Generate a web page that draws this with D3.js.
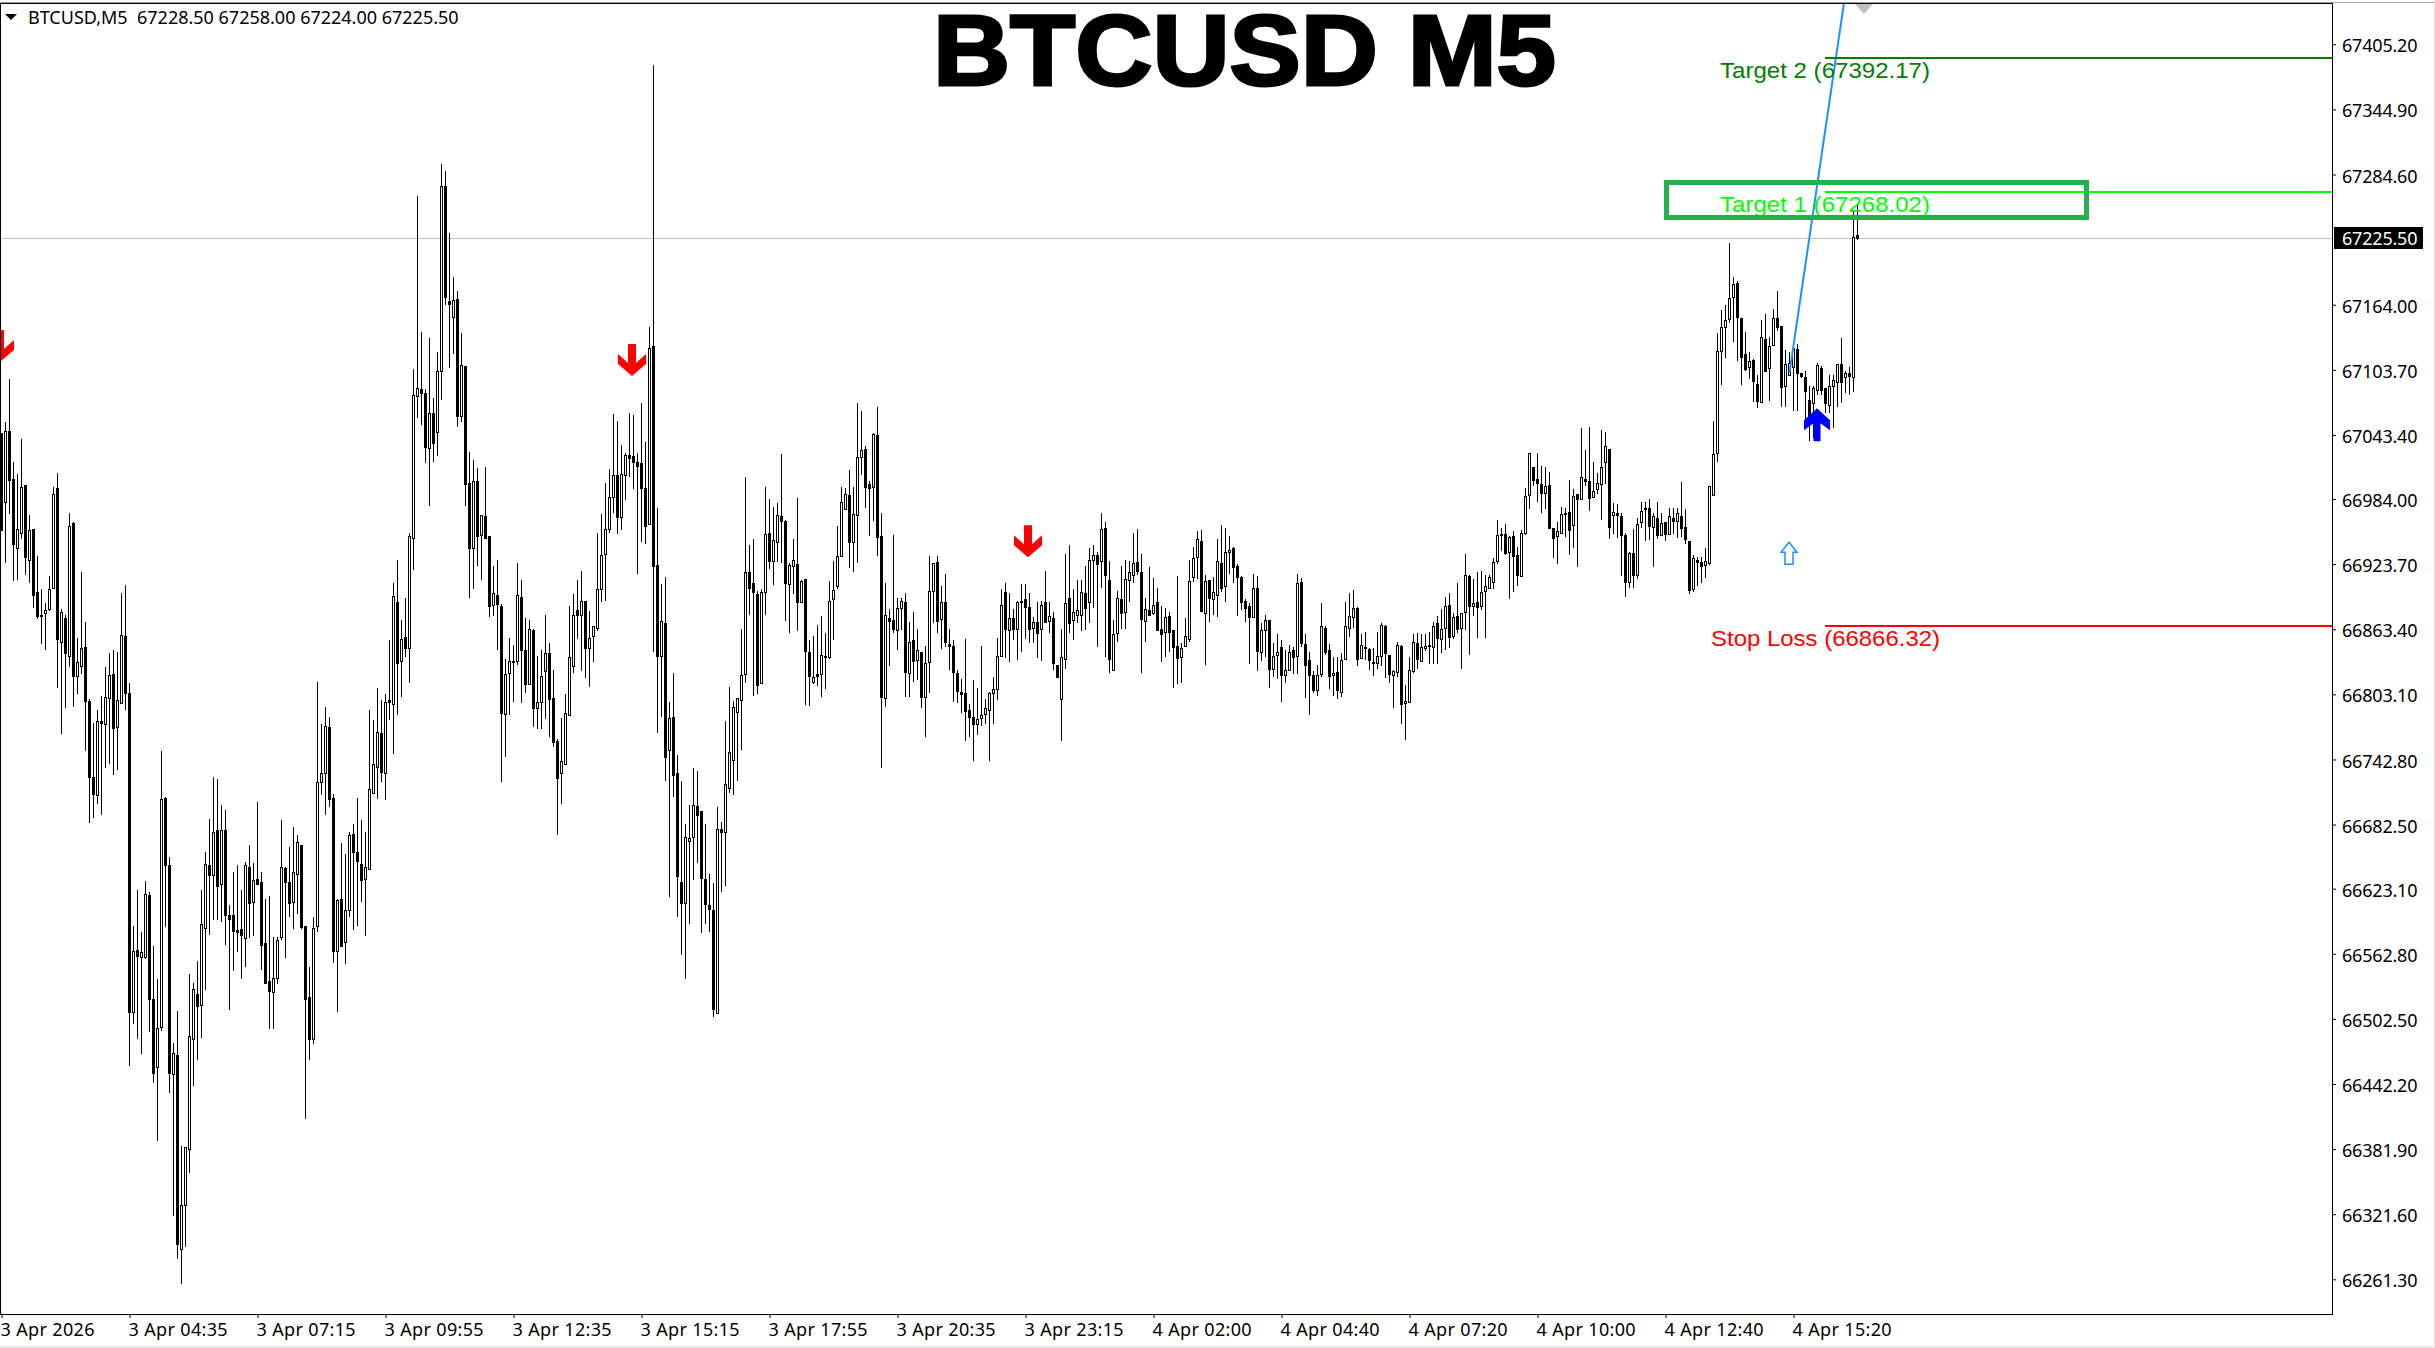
<!DOCTYPE html>
<html><head><meta charset="utf-8">
<script src="https://cdn.jsdelivr.net/npm/d3@7"></script>
<style>html,body{margin:0;padding:0;background:#fff;overflow:hidden}svg{display:block}text{font-family:"Noto Sans",sans-serif}</style>
</head><body><svg id="c" width="2435" height="1348"></svg>
<script>
const highs=[67045,67055,67095,67018,67007,67040,66997,66969,66956,66931,
66901,66888,66913,66995,67008,66882,66877,66971,66963,66855,
66916,66870,66799,66777,66789,66802,66828,66841,66844,66842,
66897,66904,66814,66589,66622,66583,66630,66620,66570,66539,
66751,66708,66652,66480,66510,66385,66384,66544,66536,66556,
66622,66657,66688,66727,66725,66701,66696,66608,66639,66645,
66622,66648,66664,66647,66703,66639,66614,66616,66578,66578,
66687,66643,66662,66680,66673,66664,66589,66551,66597,66815,
66776,66791,66782,66711,66614,66665,66655,66676,66683,66707,
66687,66676,66789,66779,66809,66798,66803,66853,66906,66928,
66872,66892,66953,67104,67265,67139,67086,67133,67078,67120,
67294,67288,67230,67190,67177,67138,67107,67028,67020,67013,
66969,67014,66950,66922,66928,66887,66836,66855,66849,66925,
66909,66874,66872,66864,66839,66844,66877,66851,66826,66762,
66781,66803,66885,66896,66909,66917,66890,66880,66866,66953,
66970,66999,67012,67063,67056,67034,67027,67064,67062,67027,
67073,67037,67143,67386,66976,66905,66912,66796,66823,66747,
66723,66683,66701,66735,66732,66695,66683,66637,66628,66699,
66685,66778,66810,66797,66800,66864,67004,66941,66947,66899,
66901,66995,66984,66977,66980,67026,66965,66925,66947,66985,
66909,66910,66853,66857,66867,66876,66860,66908,66927,66959,
66995,66994,67011,66995,67073,67066,67033,67001,67045,67069,
66971,66906,66882,66951,66892,66892,66897,66870,66879,66864,
66842,66848,66931,66925,66931,66903,66915,66864,66853,66826,
66817,66854,66794,66816,66809,66848,66799,66805,66819,66855,
66901,66906,66897,66882,66890,66905,66905,66897,66875,66889,
66890,66917,66889,66879,66830,66864,66933,66941,66901,66909,
66909,66922,66939,66941,66935,66971,66963,66927,66872,66899,
66922,66928,66927,66953,66956,66933,66892,66921,66911,66902,
66885,66883,66879,66863,66913,66851,66874,66928,66940,66954,
66955,66914,66909,66912,66947,66960,66957,66950,66940,66924,
66913,66891,66888,66915,66913,66869,66877,66872,66851,66859,
66853,66844,66849,66847,66915,66911,66859,66842,66825,66830,
66888,66866,66850,66838,66838,66841,66889,66897,66900,66884,
66859,66861,66846,66846,66861,66869,66867,66840,66826,66852,
66849,66812,66838,66859,66860,66859,66859,66861,66870,66876,
66882,66893,66897,66878,66906,66878,66933,66914,66910,66916,
66917,66914,66914,66929,66965,66957,66961,66950,66954,66940,
66955,66994,67027,67014,67027,67015,67014,67009,66957,66963,
66977,66976,67002,66993,66989,67050,67029,67051,67018,67008,
67048,67046,67030,66980,66979,66971,66953,66935,66956,66966,
66981,66981,66984,66971,66981,66971,66963,66976,66976,66976,
67000,66975,66945,66932,66930,66930,66939,66996,67056,67138,
67159,67164,67221,67190,67186,67152,67139,67120,67114,67099,
67150,67155,67134,67160,67177,67144,67122,67120,67124,67128,
67101,67103,67089,67089,67110,67107,67087,67099,67099,67109,
67133,67103,67106,67252,67258];

const lows=[66955,66925,66970,66908,66909,66947,66914,66906,66883,66873,
66850,66844,66880,66902,66809,66766,66790,66828,66791,66803,
66822,66751,66684,66689,66702,66691,66735,66739,66728,66733,
66794,66789,66459,66498,66484,66470,66558,66490,66443,66389,
66491,66588,66434,66320,66280,66257,66291,66360,66440,66464,
66485,66529,66580,66594,66594,66592,66571,66511,66547,66564,
66539,66551,66577,66579,66627,66548,66536,66493,66493,66535,
66576,66559,66597,66586,66600,66586,66410,66464,66479,66583,
66710,66691,66699,66554,66509,66569,66553,66597,66585,66589,
66611,66579,66641,66712,66706,66722,66705,66779,66748,66784,
66801,66838,66814,66918,67059,67053,67017,66978,67018,67024,
67076,67164,67105,67118,67051,67055,66978,66892,66901,66922,
66909,66948,66875,66876,66844,66722,66745,66784,66796,66830,
66795,66804,66814,66773,66771,66771,66780,66764,66754,66673,
66702,66739,66784,66823,66854,66825,66818,66810,66833,66862,
66889,66890,66953,66971,66952,66955,66983,67004,66993,66915,
66944,66942,66961,66842,66767,66782,66723,66615,66708,66597,
66562,66539,66590,66631,66647,66582,66590,66583,66504,66508,
66620,66626,66712,66710,66723,66752,66814,66877,66802,66803,
66813,66877,66919,66904,66926,66925,66871,66860,66896,66862,
66889,66793,66792,66813,66811,66801,66808,66836,66853,66901,
66931,66975,66920,66916,66925,67006,66976,66950,66964,66931,
66735,66791,66829,66860,66844,66863,66801,66801,66815,66816,
66790,66764,66804,66869,66860,66845,66847,66826,66796,66795,
66786,66760,66764,66741,66765,66774,66776,66741,66776,66798,
66838,66837,66833,66853,66835,66842,66854,66851,66851,66837,
66834,66870,66860,66826,66818,66760,66827,66860,66853,66869,
66862,66863,66869,66883,66847,66902,66838,66823,66826,66852,
66864,66864,66889,66906,66914,66823,66852,66877,66877,66862,
66833,66838,66842,66809,66813,66814,66848,66852,66907,66910,
66880,66830,66870,66877,66875,66898,66889,66915,66906,66876,
66881,66870,66831,66875,66825,66834,66838,66809,66819,66817,
66796,66814,66826,66822,66822,66847,66800,66784,66804,66802,
66819,66840,66808,66802,66799,66801,66836,66856,66865,66829,
66837,66835,66826,66820,66827,66829,66818,66814,66790,66819,
66776,66761,66796,66823,66827,66833,66843,66831,66831,66831,
66841,66844,66846,66854,66860,66827,66863,66840,66876,66855,
66881,66855,66901,66901,66924,66936,66932,66891,66898,66903,
66912,66951,66975,66996,66981,66971,66975,66957,66929,66924,
66952,66949,66932,66939,66921,66983,66996,66973,66985,66989,
66965,66998,66947,66952,66948,66913,66893,66902,66902,66910,
66957,66945,66946,66921,66947,66950,66945,66951,66952,66948,
66949,66942,66896,66898,66903,66906,66911,66923,66988,67018,
67090,67115,67147,67129,67112,67090,67103,67095,67074,67068,
67074,67102,67075,67127,67140,67069,67069,67101,67066,67066,
67096,67055,67038,67041,67080,67080,67064,67064,67050,67069,
67073,67082,67080,67083,67224];

const opens=[67045,66981,67047,67003,66939,66953,66997,66928,66956,66898,
66877,66878,66882,66902,66994,66852,66874,66839,66962,66820,
66829,66847,66797,66727,66710,66778,66776,66800,66822,66773,
66795,66857,66804,66509,66566,66560,66560,66617,66521,66458,
66495,66707,66645,66451,66469,66289,66330,66382,66484,66526,
66515,66587,66645,66636,66677,66627,66677,66599,66599,66585,
66586,66577,66643,66611,66632,66629,66573,66538,66527,66540,
66578,66642,66629,66611,66637,66664,66589,66523,66484,66589,
66722,66730,66773,66707,66565,66614,66574,66603,66674,66657,
66646,66632,66641,66712,66736,66767,66730,66798,66794,66889,
66834,66856,66846,66948,67079,67086,67082,67031,67064,67046,
67103,67274,67167,67153,67169,67061,67107,66999,66939,67001,
66951,66968,66950,66886,66895,66885,66785,66823,66834,66834,
66893,66844,66813,66863,66790,66796,66825,66841,66800,66760,
66730,66739,66784,66829,66881,66877,66890,66846,66857,66865,
66901,66933,66956,66986,67006,66967,67006,67025,67024,67018,
67017,66994,66961,67126,66923,66839,66869,66752,66782,66730,
66629,66610,66667,66671,66700,66695,66632,66608,66603,66508,
66678,66676,66716,66742,66787,66798,66822,66916,66906,66896,
66814,66898,66953,66927,66944,66968,66964,66905,66922,66924,
66889,66910,66842,66815,66822,66822,66839,66838,66891,66903,
66931,66975,66988,66944,66969,67023,67030,66998,66995,67043,
66950,66800,66874,66872,66863,66883,66889,66823,66853,66835,
66842,66801,66833,66899,66926,66873,66889,66850,66848,66823,
66805,66804,66789,66782,66776,66781,66785,66789,66804,66808,
66839,66898,66863,66874,66864,66890,66891,66884,66865,66870,
66864,66889,66871,66874,66830,66799,66836,66892,66872,66877,
66877,66897,66889,66928,66932,66927,66957,66909,66826,66860,
66891,66879,66909,66914,66926,66916,66871,66881,66878,66889,
66864,66861,66876,66863,66848,66838,66848,66854,66912,66930,
66945,66878,66909,66891,66895,66925,66903,66935,66939,66922,
66912,66890,66885,66875,66902,66842,66863,66872,66827,66840,
66847,66821,66826,66844,66839,66907,66850,66835,66821,66807,
66822,66865,66844,66821,66824,66805,66836,66865,66875,66883,
66837,66847,66845,66833,66832,66839,66866,66840,66821,66824,
66848,66795,66796,66825,66851,66834,66846,66849,66847,66869,
66854,66865,66886,66857,66876,66865,66879,66913,66885,66889,
66885,66899,66902,66907,66927,66952,66952,66935,66950,66932,
66913,66953,66988,67014,67003,66998,66990,66997,66957,66950,
66953,66971,66972,66960,66989,66984,67003,67001,66986,66993,
66998,67018,67030,66969,66971,66968,66951,66907,66934,66914,
66963,66976,66976,66958,66966,66951,66963,66952,66966,66964,
66968,66958,66945,66901,66928,66926,66923,66925,66988,67027,
67121,67143,67151,67171,67184,67152,67118,67106,67113,67091,
67074,67132,67105,67127,67152,67144,67089,67099,67106,67123,
67101,67097,67076,67073,67085,67105,67087,67071,67089,67092,
67109,67097,67101,67097,67228.5];

const closes=[66955,67047,67002,66942,66956,66995,66930,66955,66895,66876,
66876,66881,66901,66989,66854,66879,66841,66959,66820,66833,
66846,66797,66727,66711,66778,66777,66801,66821,66772,66798,
66858,66804,66509,66565,66561,66564,66618,66521,66452,66494,
66706,66645,66452,66471,66294,66330,66384,66487,66530,66514,
66590,66646,66636,66676,66626,66677,66599,66595,66584,66583,
66580,66645,66610,66631,66627,66571,66536,66528,66540,66576,
66643,66629,66610,66639,66666,66588,66521,66484,66587,66722,
66730,66774,66706,66565,66613,66570,66603,66673,66657,66649,
66631,66643,66715,66739,66768,66731,66796,66796,66894,66832,
66854,66846,66950,67080,67087,67082,67032,67064,67036,67103,
67274,67171,67165,67168,67061,67108,66998,66939,67001,66950,
66969,66948,66885,66897,66887,66786,66822,66834,66833,66895,
66844,66813,66864,66790,66796,66820,66841,66799,66759,66726,
66741,66786,66838,66877,66877,66890,66846,66855,66866,66901,
66932,66956,66986,67006,66967,67007,67025,67022,67018,67015,
66994,66959,67124,66922,66839,66871,66745,66781,66728,66635,
66610,66671,66670,66701,66691,66633,66609,66604,66512,66678,
66676,66720,66750,66791,66800,66821,66916,66902,66898,66812,
66898,66952,66927,66946,66969,66964,66906,66923,66928,66889,
66908,66843,66820,66819,66820,66840,66838,66890,66900,66931,
66981,66989,66944,66970,67023,67029,66995,66994,67044,66949,
66801,66877,66871,66864,66883,66890,66824,66852,66834,66844,
66801,66832,66899,66925,66871,66889,66852,66848,66824,66806,
66803,66788,66782,66776,66780,66784,66790,66804,66808,66839,
66886,66864,66874,66864,66889,66889,66884,66864,66870,66860,
66886,66870,66876,66832,66819,66838,66888,66869,66879,66881,
66898,66883,66928,66932,66924,66956,66914,66836,66859,66892,
66878,66910,66916,66925,66917,66873,66882,66877,66886,66863,
66859,66875,66861,66847,66837,66846,66857,66908,66929,66947,
66880,66908,66892,66898,66927,66902,66935,66937,66921,66912,
66889,66883,66875,66902,66843,66863,66872,66827,66839,66842,
66821,66826,66842,66838,66906,66851,66830,66821,66807,66821,
66866,66842,66820,66823,66807,66835,66866,66876,66883,66836,
66849,66846,66835,66832,66839,66867,66841,66822,66825,66849,
66794,66797,66826,66852,66836,66847,66848,66848,66866,66855,
66864,66885,66856,66875,66864,66878,66914,66885,66888,66884,
66898,66903,66912,66926,66951,66951,66934,66949,66931,66914,
66953,66987,67027,67002,66999,66990,66996,66957,66948,66954,
66970,66970,66955,66987,66984,67004,67001,66985,66991,66999,
67014,67033,66958,66972,66969,66951,66907,66934,66914,66961,
66973,66975,66959,66968,66951,66962,66952,66968,66964,66971,
66957,66947,66900,66929,66926,66922,66927,66996,67026,67121,
67143,67150,67170,67183,67153,67116,67104,67112,67093,67075,
67134,67103,67126,67152,67143,67088,67109,67110,67124,67101,
67098,67084,67056,67087,67108,67085,67073,67089,67094,67109,
67092,67101,67098,67227,67225.5];

const yTickValues=[66261.30,66321.60,66381.90,66442.20,66502.50,66562.80,66623.10,66682.50,66742.80,66803.10,66863.40,66923.70,66984.00,67043.40,67103.70,67164.00,67284.60,67344.90,67405.20];
const xTickIndex=[0,32,64,96,128,160,192,224,256,288,320,352,384,416,448];
const xTickLabels=["3 Apr 2026","3 Apr 04:35","3 Apr 07:15","3 Apr 09:55","3 Apr 12:35","3 Apr 15:15","3 Apr 17:55","3 Apr 20:35","3 Apr 23:15","4 Apr 02:00","4 Apr 04:40","4 Apr 07:20","4 Apr 10:00","4 Apr 12:40","4 Apr 15:20"];
const levelNames=["Target 2 (67392.17)","Target 1 (67268.02)","Stop Loss (66866.32)"];
const levelPrices=[67392.17,67268.02,66866.32];
const levelColors=["#008000","#00ff00","#ff0000"];
const levelStartIndex=[456,456,456];
const levelLabelIndex=[429.75,429.75,427.5];
const levelLabelWidth=[210,210,229];
const sellArrowIndex=[0,158,257];
const sellArrowTip=[67111,67098,66930];
const buyArrowIndex=[454];
const buyArrowTip=[67068];
const hintArrowIndex=[447];
const hintArrowTop=[66944];
const rayIndex=[447,460.6];
const rayPrice=[67101,67443];
const currentPrice=67225.50;
const headerText="BTCUSD,M5  67228.50 67258.00 67224.00 67225.50";
const titleText="BTCUSD M5";

const svg=d3.select("#c");
const W=2435,H=1348,plotR=2332,plotB=1314,plotT=4;
const x=d3.scaleLinear().domain([0,464]).range([1,1857]);
const y=d3.scaleLinear().domain([66261.3,67405.2]).range([1279.3,44.3]);
const py=v=>Math.round(y(v));

svg.append("rect").attr("width",W).attr("height",H).attr("fill","#fff");
svg.append("defs").append("clipPath").attr("id","plot").append("rect").attr("x",1).attr("y",plotT).attr("width",plotR-1).attr("height",plotB-plotT);
const plot=svg.append("g").attr("clip-path","url(#plot)");

// current price line
plot.append("rect").attr("x",0).attr("width",plotR).attr("y",py(currentPrice)).attr("height",1).attr("fill","#c0c0c0");

// candles
const bars=d3.range(highs.length).map(i=>({i,o:opens[i],h:highs[i],l:lows[i],c:closes[i]}));
const cg=plot.append("g").attr("shape-rendering","crispEdges");
const g=cg.selectAll("g").data(bars).join("g");
g.append("rect").attr("x",d=>Math.round(x(d.i))).attr("width",1)
 .attr("y",d=>py(d.h)).attr("height",d=>Math.max(1,py(d.l)-py(d.h))).attr("fill","#000");
g.each(function(d){
  const s=d3.select(this),top=py(Math.max(d.o,d.c)),bot=py(Math.min(d.o,d.c)),px=Math.round(x(d.i));
  if(d.c<d.o){
    s.append("rect").attr("x",px-1).attr("width",3).attr("y",top).attr("height",Math.max(2,bot-top+1)).attr("fill","#000");
  }else{
    s.append("rect").attr("x",px-0.5).attr("width",2).attr("y",top+0.5).attr("height",Math.max(2,bot-top)).attr("fill","#fff").attr("stroke","#000").attr("stroke-width",1);
  }
});

// ray
plot.append("line").attr("x1",x(rayIndex[0])+.5).attr("y1",y(rayPrice[0])).attr("x2",x(rayIndex[1])+.5).attr("y2",y(rayPrice[1])).attr("stroke","#1e90ff").attr("stroke-width",2);

// levels
levelPrices.forEach((p,k)=>{
  plot.append("rect").attr("x",x(levelStartIndex[k])).attr("width",plotR-x(levelStartIndex[k])).attr("y",py(p)-1).attr("height",2).attr("fill",levelColors[k]);
  plot.append("text").attr("x",x(levelLabelIndex[k])).attr("y",py(p)+20).attr("fill",levelColors[k])
    .attr("font-size",22).attr("textLength",levelLabelWidth[k]).attr("lengthAdjust","spacingAndGlyphs")
    .style("font-family","'Liberation Sans',Arial,sans-serif").text(levelNames[k]);
});

// highlight box
plot.append("rect").attr("x",1666.5).attr("y",182.5).attr("width",420).attr("height",35).attr("fill","none").attr("stroke","#22b14c").attr("stroke-width",5);

// gray triangle
plot.append("path").attr("d",`M1854,3L1874,3L1864,14Z`).attr("fill","#c0c0c0");

// arrows
const sellShape=[[-4,-32],[4,-32],[4,-13],[14,-22],[14,-12],[0,0],[-14,-12],[-14,-22],[-4,-13]];
const buyShape=[[0,0],[13,12],[13,22],[3.5,15],[3.5,33],[-3.5,33],[-3.5,15],[-13,22],[-13,12]];
const poly=pts=>"M"+pts.map(p=>p.join(",")).join("L")+"Z";
sellArrowIndex.forEach((ix,k)=>{
  plot.append("path").attr("transform",`translate(${x(ix)-1},${y(sellArrowTip[k])})`).attr("d",poly(sellShape)).attr("fill","#ff0000");
});
buyArrowIndex.forEach((ix,k)=>{
  plot.append("path").attr("transform",`translate(${x(ix)},${y(buyArrowTip[k])})`).attr("d",poly(buyShape)).attr("fill","#0000ff");
});
hintArrowIndex.forEach((ix,k)=>{
  const s=[[0,0],[8,10],[4,10],[4,22],[-4,22],[-4,10],[-8,10]];
  plot.append("path").attr("transform",`translate(${x(ix)},${y(hintArrowTop[k])})`).attr("d",poly(s)).attr("fill","#fff").attr("stroke","#1e90ff").attr("stroke-width",1.5);
});

// title
svg.append("text").attr("x",933).attr("y",85).attr("font-size",100).attr("font-weight",700).attr("textLength",623).attr("lengthAdjust","spacingAndGlyphs")
  .attr("stroke","#000").attr("stroke-width",3).attr("fill","#000").style("font-family","'Liberation Sans',Arial,sans-serif").text(titleText);

// frame
svg.append("rect").attr("x",0).attr("y",2).attr("width",W).attr("height",1).attr("fill","#a0a0a0");
svg.append("rect").attr("x",0).attr("y",3).attr("width",2333).attr("height",1).attr("fill","#000");
svg.append("rect").attr("x",0).attr("y",3).attr("width",1).attr("height",1311).attr("fill","#000");
svg.append("rect").attr("x",2332).attr("y",3).attr("width",1).attr("height",1311).attr("fill","#000");
svg.append("rect").attr("x",0).attr("y",1314).attr("width",2333).attr("height",1).attr("fill","#000");
svg.append("rect").attr("x",2434).attr("y",0).attr("width",1).attr("height",H).attr("fill","#e0e0e0");
svg.append("rect").attr("x",0).attr("y",1346).attr("width",W).attr("height",2).attr("fill","#e8e8e8");

// axes
const fontAxis="'Noto Sans',sans-serif";
const ya=svg.append("g").attr("transform",`translate(2333,0)`).call(d3.axisRight(y).tickValues(yTickValues).tickSize(3).tickSizeOuter(0).tickFormat(d=>d.toFixed(2)));
ya.select(".domain").remove();
ya.selectAll("line").attr("stroke","#000");
ya.selectAll("text").attr("x",9).attr("dy","0.42em").attr("font-size",18).style("letter-spacing","-0.2px").attr("fill","#000").style("font-family",fontAxis);
const xTickScale=d3.scaleLinear().domain([0,464]).range([1.5,1857.5]);
const xa=svg.append("g").attr("transform",`translate(0,1315)`).call(d3.axisBottom(xTickScale).tickValues(xTickIndex).tickSize(3).tickSizeOuter(0).tickFormat((d,i)=>xTickLabels[i]));
xa.select(".domain").remove();
xa.selectAll("line").attr("stroke","#000");
xa.selectAll("text").attr("text-anchor","start").attr("x",-1.5).attr("y",8).attr("font-size",18).style("letter-spacing","0.35px").attr("fill","#000").style("font-family",fontAxis);

// header
svg.append("path").attr("d","M5,14L17,14L11,20Z").attr("fill","#000");
svg.append("text").attr("x",28).attr("y",24).attr("font-size",18).attr("fill","#000").style("white-space","pre").text(headerText);

// current price label
svg.append("rect").attr("x",2334).attr("y",py(currentPrice)-11).attr("width",89).attr("height",22).attr("fill","#000");
svg.append("text").attr("x",2342).attr("y",py(currentPrice)+7).attr("font-size",18).style("letter-spacing","-0.2px").attr("fill","#fff").text(currentPrice.toFixed(2));
</script></body></html>
